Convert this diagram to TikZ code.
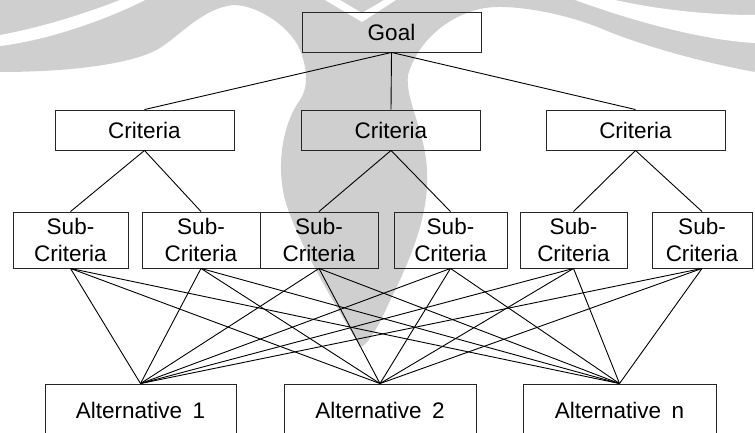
\documentclass[tikz,border=0pt]{standalone}
\usepackage{fontspec}
\setmainfont{Liberation Sans}
\begin{document}
\begin{tikzpicture}[x=1pt,y=-1pt,
  wm/.style={fill=black!19},
  wmcut/.style={fill=white},
  box/.style={draw=black!85, line width=0.9pt, inner sep=0pt,
    font=\fontsize{22.5}{27}\selectfont, align=center},
  topbox/.style={box, minimum width=179pt, minimum height=40pt},
  subbox/.style={box, minimum height=56pt},
  altbox/.style={box, minimum width=192pt, minimum height=52pt},
  link/.style={line width=0.9pt, black}]
\useasboundingbox (0,0) rectangle (755,433);
% faint watermark behind the diagram
\path[wm] (0,0) -- (755,0) -- (755,72)
  .. controls (700,62) and (640,45) .. (600,28)
  .. controls (560,12) and (510,4) .. (485,8)
  .. controls (450,14) and (418,40) .. (408,75)
  .. controls (405,100) and (425,130) .. (427,170)
  .. controls (430,220) and (405,270) .. (388,305)
  .. controls (378,328) and (366,347) .. (360,347)
  .. controls (345,320) and (300,250) .. (285,200)
  .. controls (275,160) and (285,120) .. (300,100)
  .. controls (308,88) and (308,70) .. (300,50)
  .. controls (290,25) and (250,0) .. (227,6)
  .. controls (200,12) and (180,35) .. (160,48)
  .. controls (130,66) and (60,72) .. (0,72) -- cycle;
\path[wmcut] (0,35) .. controls (40,28) and (90,12) .. (120,0) -- (145,0)
  .. controls (110,18) and (50,40) .. (0,46) -- cycle;
\path[wmcut] (575,0) -- (615,0) .. controls (660,10) and (710,15) .. (755,15)
  -- (755,43) .. controls (700,40) and (630,20) .. (575,0) -- cycle;
\path[wmcut] (325,0) -- (340,0) -- (362,13) -- (384,0) -- (396,0)
  -- (362,22) -- cycle;
% nodes
\node[topbox] (goal) at (391.5,32) {Goal};
\node[topbox] (c1) at (144.5,130) {Criteria};
\node[topbox] (c2) at (391,130) {Criteria};
\node[topbox] (c3) at (635.5,130) {Criteria};
\node[subbox, minimum width=115pt] (s1) at (70.5,240) {Sub-\\Criteria};
\node[subbox, minimum width=118pt] (s2) at (201,240) {Sub-\\Criteria};
\node[subbox, minimum width=118pt] (s3) at (319,240) {Sub-\\Criteria};
\node[subbox, minimum width=113pt] (s4) at (450.5,240) {Sub-\\Criteria};
\node[subbox, minimum width=107pt] (s5) at (573.5,240) {Sub-\\Criteria};
\node[subbox, minimum width=100pt] (s6) at (702,240) {Sub-\\Criteria};
\node[altbox, minimum width=191pt] (a1) at (140.5,410) {Alternative\hspace{0.47em}1};
\node[altbox] (a2) at (380,410) {Alternative\hspace{0.47em}2};
\node[altbox, minimum width=193pt] (a3) at (619.5,410) {Alternative\hspace{0.47em}n};
% connectors
\foreach \c in {c1,c2,c3} \draw[link] (goal.south) -- (\c.north);
\draw[link] (c1.south) -- (s1.north);
\draw[link] (c1.south) -- (s2.north);
\draw[link] (c2.south) -- (s3.north);
\draw[link] (c2.south) -- (s4.north);
\draw[link] (c3.south) -- (s5.north);
\draw[link] (c3.south) -- (s6.north);
\foreach \s in {s1,s2,s3,s4,s5,s6}
  \foreach \a in {a1,a2,a3}
    \draw[link] (\s.south) -- (\a.north);
\end{tikzpicture}
\end{document}
